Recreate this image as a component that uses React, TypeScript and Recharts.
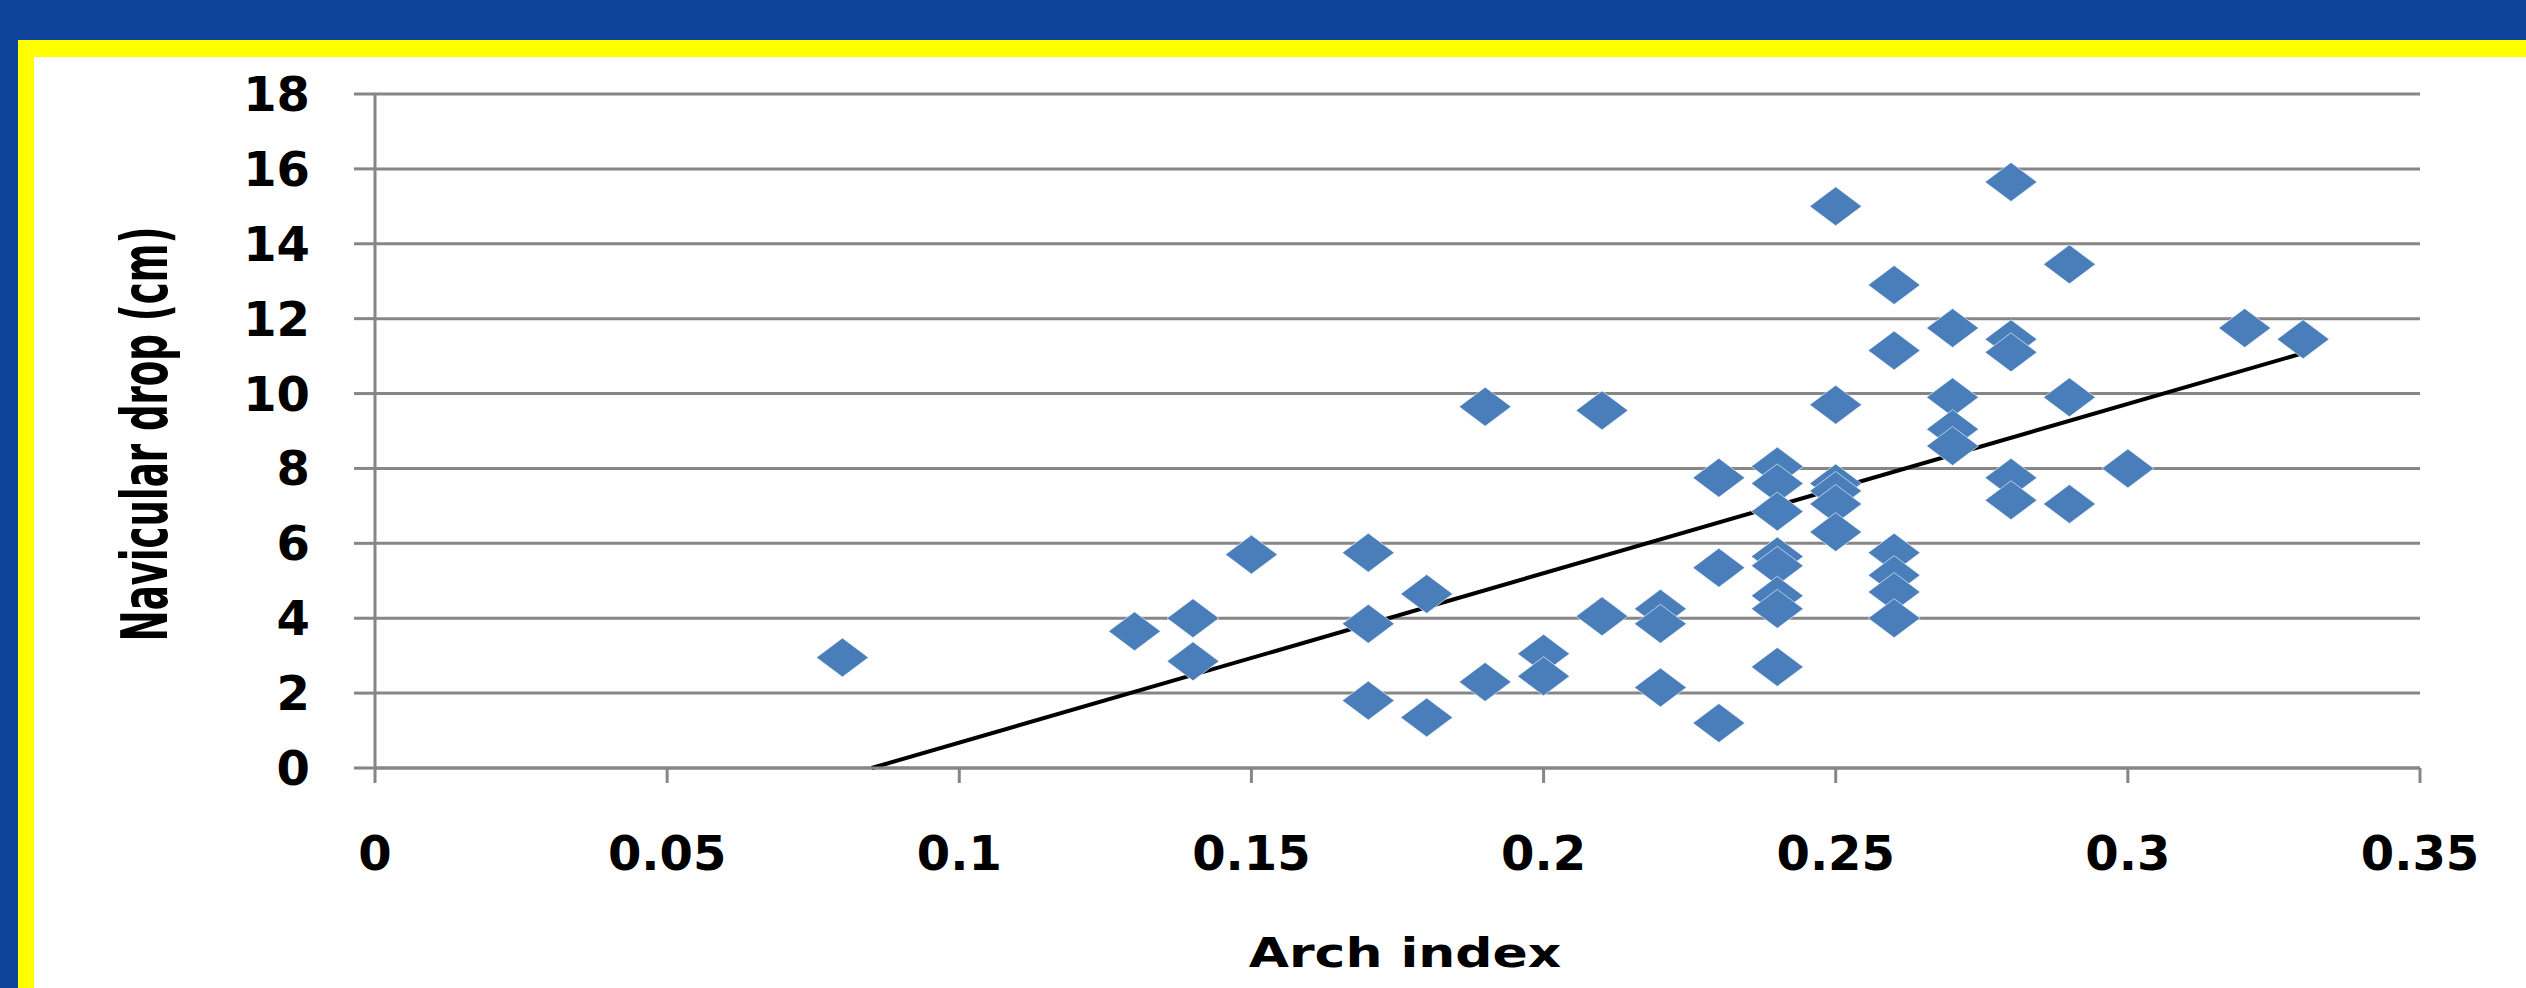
import { ScatterChart, Scatter, XAxis, YAxis, CartesianGrid, ReferenceLine, Label } from "recharts";

// Arch index vs navicular drop
const archIndex = [
  0.08,
  0.13,
  0.14, 0.14,
  0.15,
  0.17, 0.17, 0.17,
  0.18, 0.18,
  0.19, 0.19,
  0.2, 0.2,
  0.21, 0.21,
  0.22, 0.22, 0.22,
  0.23, 0.23, 0.23,
  0.24, 0.24, 0.24, 0.24, 0.24, 0.24, 0.24, 0.24,
  0.25, 0.25, 0.25, 0.25, 0.25, 0.25,
  0.26, 0.26, 0.26, 0.26, 0.26, 0.26,
  0.27, 0.27, 0.27, 0.27,
  0.28, 0.28, 0.28, 0.28, 0.28,
  0.29, 0.29, 0.29,
  0.3,
  0.32,
  0.33,
];
const navicularDrop = [
  2.95,
  3.65,
  4.0, 2.85,
  5.7,
  5.75, 3.85, 1.8,
  4.65, 1.35,
  9.65, 2.3,
  3.05, 2.45,
  9.55, 4.05,
  4.25, 3.85, 2.15,
  7.75, 5.35, 1.2,
  8.05, 7.6, 6.85, 5.65, 5.4, 4.6, 4.25, 2.7,
  15.0, 9.7, 7.6, 7.4, 7.05, 6.3,
  12.9, 11.15, 5.75, 5.15, 4.7, 4.0,
  11.75, 9.9, 9.05, 8.6,
  15.65, 11.45, 11.1, 7.75, 7.15,
  13.45, 9.9, 7.05,
  8.0,
  11.75,
  11.45,
];

// linear trendline ends
const trendX = [0.085, 0.33];
const trendY = [0, 11.08];

const xTicks = [0, 0.05, 0.1, 0.15, 0.2, 0.25, 0.3, 0.35];
const yTicks = [0, 2, 4, 6, 8, 10, 12, 14, 16, 18];

const GRID = "#868686";
const MARKER = "#4A7EBB";
const FONT = "'DejaVu Sans', Verdana, sans-serif";

const points = archIndex.map((x, i) => ({ x, y: navicularDrop[i] }));

function Diamond(props: any) {
  const { cx, cy } = props;
  if (cx == null || cy == null) return <g />;
  const w = 26;
  const h = 19.5;
  return (
    <polygon
      points={`${cx},${cy - h} ${cx + w},${cy} ${cx},${cy + h} ${cx - w},${cy}`}
      fill={MARKER}
      stroke="rgba(255,255,255,0.6)"
      strokeWidth={1}
    />
  );
}

const tickStyle = {
  fill: "#000",
  fontSize: 48,
  fontWeight: 700,
  fontFamily: FONT,
};

export default function App() {
  return (
    <div
      style={{
        position: "absolute",
        left: 0,
        top: 0,
        width: 2526,
        height: 988,
        background: "#0E4499",
        overflow: "hidden",
      }}
    >
      <div style={{ position: "absolute", left: 18, top: 40, right: 0, bottom: 0, background: "#FFFF00" }} />
      <div style={{ position: "absolute", left: 34, top: 57, right: 0, bottom: 0, background: "#FFFFFF" }} />
      <div style={{ position: "absolute", left: 0, top: 0 }}>
        <ScatterChart width={2526} height={988} margin={{ top: 94, right: 106, bottom: 0, left: 0 }}>
          <CartesianGrid vertical={false} stroke={GRID} strokeWidth={3} />
          <XAxis
            dataKey="x"
            type="number"
            domain={[0, 0.35]}
            ticks={xTicks}
            height={220}
            stroke={GRID}
            strokeWidth={3}
            tickLine={{ stroke: GRID, strokeWidth: 3 }}
            tickSize={15}
            tickMargin={53}
            tick={tickStyle}
            interval={0}
          >
            <Label
              content={() => (
                <text
                  transform="translate(1405, 967) scale(1.3, 1)"
                  textAnchor="middle"
                  fontFamily={FONT}
                  fontWeight={700}
                  fontSize={40}
                  fill="#000"
                >
                  Arch index
                </text>
              )}
            />
          </XAxis>
          <YAxis
            dataKey="y"
            type="number"
            domain={[0, 18]}
            ticks={yTicks}
            width={375}
            stroke={GRID}
            strokeWidth={3}
            tickLine={{ stroke: GRID, strokeWidth: 3 }}
            tickSize={21}
            tickMargin={44}
            tick={tickStyle}
            interval={0}
          >
            <Label
              content={() => (
                <text
                  transform="translate(167, 434) rotate(-90) scale(0.58, 1)"
                  textAnchor="middle"
                  fontFamily={FONT}
                  fontWeight={700}
                  fontSize={64}
                  fill="#000"
                >
                  Navicular drop (cm)
                </text>
              )}
            />
          </YAxis>
          <Scatter data={points} shape={Diamond} isAnimationActive={false} />
          <ReferenceLine
            segment={[
              { x: trendX[0], y: trendY[0] },
              { x: trendX[1], y: trendY[1] },
            ]}
            stroke="#000"
            strokeWidth={4}
            ifOverflow="visible"
          />
        </ScatterChart>
      </div>
    </div>
  );
}
